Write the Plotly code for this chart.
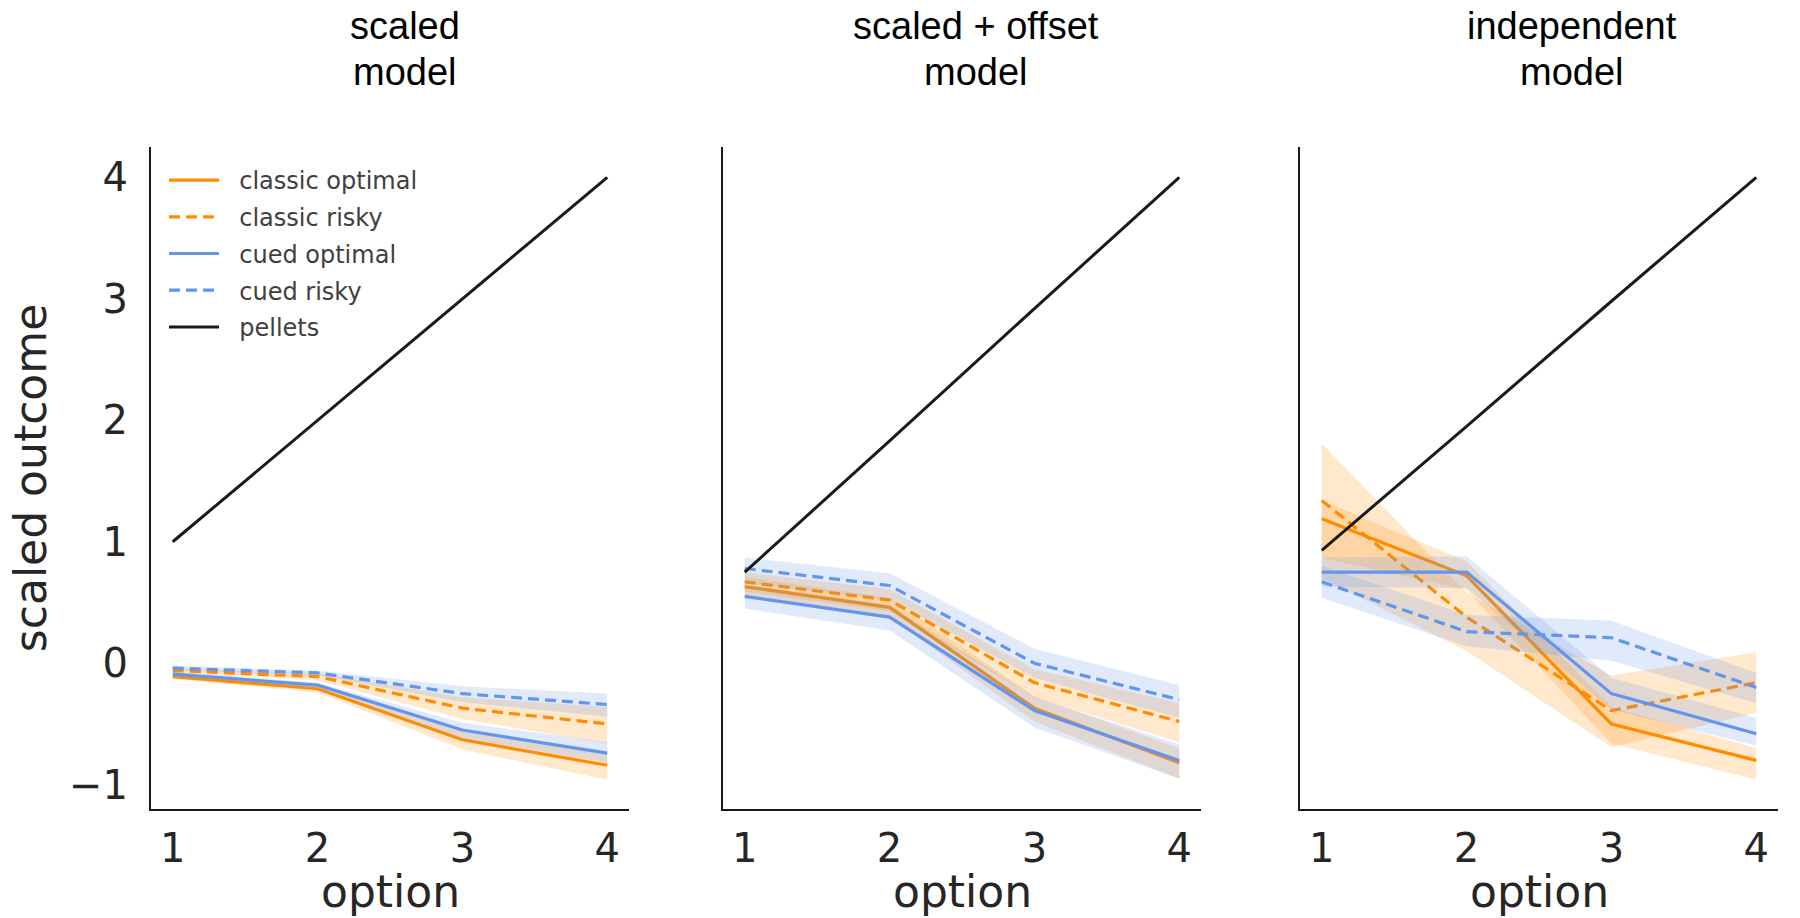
import plotly.graph_objects as go

# ---------------- data ----------------
options = [1, 2, 3, 4]
panel_titles = [["scaled", "model"], ["scaled + offset", "model"], ["independent", "model"]]
series_names = ["classic optimal", "classic risky", "cued optimal", "cued risky"]

# panel 1: scaled model
p1_classic_optimal = [-0.11, -0.21, -0.63, -0.84]
p1_classic_optimal_lo = [-0.13, -0.24, -0.71, -0.96]
p1_classic_optimal_hi = [-0.09, -0.18, -0.56, -0.73]
p1_classic_risky = [-0.06, -0.11, -0.37, -0.50]
p1_classic_risky_lo = [-0.08, -0.14, -0.46, -0.66]
p1_classic_risky_hi = [-0.04, -0.08, -0.28, -0.36]
p1_cued_optimal = [-0.09, -0.18, -0.55, -0.74]
p1_cued_optimal_lo = [-0.11, -0.20, -0.62, -0.82]
p1_cued_optimal_hi = [-0.07, -0.16, -0.49, -0.65]
p1_cued_risky = [-0.04, -0.08, -0.25, -0.34]
p1_cued_risky_lo = [-0.06, -0.10, -0.32, -0.44]
p1_cued_risky_hi = [-0.02, -0.06, -0.19, -0.25]
p1_pellets = [1.0, 2.0, 3.0, 4.0]

# panel 2: scaled + offset model
p2_classic_optimal = [0.63, 0.46, -0.37, -0.82]
p2_classic_optimal_lo = [0.55, 0.38, -0.48, -0.95]
p2_classic_optimal_hi = [0.71, 0.54, -0.27, -0.70]
p2_classic_risky = [0.67, 0.52, -0.16, -0.48]
p2_classic_risky_lo = [0.59, 0.43, -0.28, -0.65]
p2_classic_risky_hi = [0.75, 0.61, -0.05, -0.33]
p2_cued_optimal = [0.55, 0.38, -0.39, -0.80]
p2_cued_optimal_lo = [0.45, 0.27, -0.53, -0.95]
p2_cued_optimal_hi = [0.65, 0.48, -0.28, -0.67]
p2_cued_risky = [0.78, 0.64, 0.00, -0.30]
p2_cued_risky_lo = [0.66, 0.52, -0.12, -0.45]
p2_cued_risky_hi = [0.87, 0.74, 0.12, -0.18]
p2_pellets = [0.75, 1.83, 2.92, 4.0]

# panel 3: independent model
p3_classic_optimal = [1.19, 0.72, -0.50, -0.80]
p3_classic_optimal_lo = [0.87, 0.60, -0.66, -0.96]
p3_classic_optimal_hi = [1.34, 0.84, -0.36, -0.70]
p3_classic_risky = [1.34, 0.38, -0.39, -0.16]
p3_classic_risky_lo = [0.70, 0.10, -0.69, -0.41]
p3_classic_risky_hi = [1.81, 0.58, -0.10, 0.09]
p3_cued_optimal = [0.75, 0.75, -0.25, -0.58]
p3_cued_optimal_lo = [0.63, 0.62, -0.38, -0.68]
p3_cued_optimal_hi = [0.87, 0.88, -0.12, -0.45]
p3_cued_risky = [0.67, 0.26, 0.21, -0.20]
p3_cued_risky_lo = [0.54, 0.14, 0.02, -0.33]
p3_cued_risky_hi = [0.80, 0.40, 0.35, -0.08]
p3_pellets = [0.93, 1.95, 2.98, 4.0]

y_ticks = [-1, 0, 1, 2, 3, 4]
x_title = "option"
y_title = "scaled outcome"

# ---------------- styling ----------------
ORANGE = "rgb(255,140,0)"
BLUE = "rgb(100,149,237)"
ORANGE_BAND = "rgba(255,140,0,0.2)"
BLUE_BAND = "rgba(100,149,237,0.2)"
styles = {
    "classic optimal": (ORANGE, ORANGE_BAND, "solid"),
    "classic risky": (ORANGE, ORANGE_BAND, "11px,6px"),
    "cued optimal": (BLUE, BLUE_BAND, "solid"),
    "cued risky": (BLUE, BLUE_BAND, "11px,6px"),
}

panels = [
    {
        "classic optimal": (p1_classic_optimal, p1_classic_optimal_lo, p1_classic_optimal_hi),
        "classic risky": (p1_classic_risky, p1_classic_risky_lo, p1_classic_risky_hi),
        "cued optimal": (p1_cued_optimal, p1_cued_optimal_lo, p1_cued_optimal_hi),
        "cued risky": (p1_cued_risky, p1_cued_risky_lo, p1_cued_risky_hi),
        "pellets": p1_pellets,
    },
    {
        "classic optimal": (p2_classic_optimal, p2_classic_optimal_lo, p2_classic_optimal_hi),
        "classic risky": (p2_classic_risky, p2_classic_risky_lo, p2_classic_risky_hi),
        "cued optimal": (p2_cued_optimal, p2_cued_optimal_lo, p2_cued_optimal_hi),
        "cued risky": (p2_cued_risky, p2_cued_risky_lo, p2_cued_risky_hi),
        "pellets": p2_pellets,
    },
    {
        "classic optimal": (p3_classic_optimal, p3_classic_optimal_lo, p3_classic_optimal_hi),
        "classic risky": (p3_classic_risky, p3_classic_risky_lo, p3_classic_risky_hi),
        "cued optimal": (p3_cued_optimal, p3_cued_optimal_lo, p3_cued_optimal_hi),
        "cued risky": (p3_cued_risky, p3_cued_risky_lo, p3_cued_risky_hi),
        "pellets": p3_pellets,
    },
]

# page body margin is removed, so figure pixels == page pixels
W, H = 1800, 918
x_domains_px = [(151, 629), (723, 1201), (1300, 1778)]
y_domain_px = (147, 809)   # top, bottom
title_centers_px = [405, 976, 1572]
title_line_y_px = [26, 72]
xlabel_y_px = 891


def fx(px):
    return px / W


def fy(py):
    return 1 - py / H


LEGEND_PAD = "\u00a0\u00a0"

fig = go.Figure()

for i, pdata in enumerate(panels):
    xa = "x" if i == 0 else f"x{i+1}"
    ya = "y" if i == 0 else f"y{i+1}"
    for name in series_names:
        mean, lo, hi = pdata[name]
        line_c, band_c, dash = styles[name]
        fig.add_trace(go.Scatter(
            x=options + options[::-1], y=hi + lo[::-1],
            fill="toself", fillcolor=band_c, line=dict(width=0),
            mode="lines", hoverinfo="skip", showlegend=False,
            xaxis=xa, yaxis=ya,
        ))
        fig.add_trace(go.Scatter(
            x=options, y=mean, mode="lines", name=LEGEND_PAD + name,
            line=dict(color=line_c, width=3.2, dash=dash),
            showlegend=(i == 0), legendgroup=name,
            xaxis=xa, yaxis=ya,
        ))
    fig.add_trace(go.Scatter(
        x=options, y=pdata["pellets"], mode="lines", name=LEGEND_PAD + "pellets",
        line=dict(color="#1a1a1a", width=3.0),
        showlegend=(i == 0), legendgroup="pellets",
        xaxis=xa, yaxis=ya,
    ))

tick_font = dict(family="DejaVu Sans", size=40, color="#262626")
label_font = dict(family="DejaVu Sans", size=44, color="#262626")

layout = dict(
    width=W, height=H,
    margin=dict(l=0, r=0, t=0, b=0),
    plot_bgcolor="white", paper_bgcolor="white",
    showlegend=True,
    legend=dict(
        x=fx(164), y=fy(158), xanchor="left", yanchor="top",
        font=dict(family="DejaVu Sans", size=24, color="#404040"),
        bgcolor="rgba(0,0,0,0)", traceorder="grouped",
        tracegroupgap=2.5, itemwidth=50,
    ),
)

for i in range(3):
    xk = "xaxis" if i == 0 else f"xaxis{i+1}"
    yk = "yaxis" if i == 0 else f"yaxis{i+1}"
    x0, x1 = x_domains_px[i]
    layout[xk] = dict(
        domain=[fx(x0), fx(x1)], range=[0.85, 4.15],
        tickvals=options, showgrid=False, zeroline=False,
        showline=True, linecolor="#1a1a1a", linewidth=2.2,
        ticks="", tickfont=tick_font, ticklabelstandoff=3,
        anchor="y" if i == 0 else f"y{i+1}",
    )
    layout[yk] = dict(
        domain=[fy(y_domain_px[1]), fy(y_domain_px[0])], range=[-1.2, 4.25],
        tickvals=y_ticks, showgrid=False, zeroline=False,
        showline=True, linecolor="#1a1a1a", linewidth=2.2,
        ticks="", tickfont=tick_font, ticklabelstandoff=13,
        showticklabels=(i == 0),
        anchor="x" if i == 0 else f"x{i+1}",
    )
    if i > 0:
        layout[yk]["matches"] = "y"
layout["yaxis"]["title"] = dict(text=y_title, font=label_font, standoff=9)

fig.update_layout(**layout)

for i, lines in enumerate(panel_titles):
    for j, t in enumerate(lines):
        fig.add_annotation(
            text=t, x=fx(title_centers_px[i]), y=fy(title_line_y_px[j]),
            xref="paper", yref="paper", xanchor="center", yanchor="middle",
            showarrow=False, align="center", borderpad=0,
            font=dict(family="Liberation Sans", size=38, color="black"),
        )
    x0, x1 = x_domains_px[i]
    fig.add_annotation(
        text=x_title, x=fx((x0 + x1) / 2), y=fy(xlabel_y_px),
        xref="paper", yref="paper", xanchor="center", yanchor="middle",
        showarrow=False, borderpad=0, font=label_font,
    )

fig.write_html(
    "out.html",
    config={"displayModeBar": False},
    post_script="document.body.style.margin='0px';",
)
